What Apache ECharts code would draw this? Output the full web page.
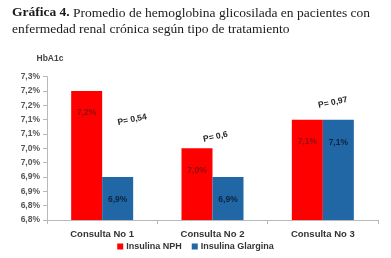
<!DOCTYPE html>
<html>
<head>
<meta charset="utf-8">
<script src="https://cdn.jsdelivr.net/npm/echarts@6/dist/echarts.min.js"></script>
<style>
html, body { margin: 0; padding: 0; background: #fff; }
#chart { width: 391px; height: 258px; }
</style>
</head>
<body>
<div id="chart"></div>
<script>
// datos
var categorias = ['Consulta No 1', 'Consulta No 2', 'Consulta No 3'];
var seriesNombres = ['Insulina NPH', 'Insulina Glargina'];
var valoresNPH = [7.25, 7.05, 7.15];
var valoresGlargina = [6.95, 6.95, 7.15];
var valoresP = ['P= 0,54', 'P= 0,6', 'P= 0,97'];

// formato tipo excel: un decimal, coma
function fmt(v) {
	return (Math.floor(v * 10 + 1e-6) / 10).toFixed(1).replace('.', ',') + '%';
}

var option = {
	animation: false,
	title: {
		left: 7,
		top: 0,
		text: '{b|Gráfica 4.} Promedio de hemoglobina glicosilada en pacientes con\nenfermedad renal crónica según tipo de tratamiento',
		textStyle: {
			fontFamily: 'Liberation Serif',
			fontSize: 13.5,
			fontWeight: 'normal',
			color: '#1a1a1a',
			lineHeight: 16,
			rich: {
				b: { fontFamily: 'Liberation Serif', fontSize: 13.5, fontWeight: 'bold', color: '#1a1a1a' }
			}
		}
	},
	legend: {
		data: seriesNombres,
		bottom: 2,
		left: 'center',
		itemWidth: 6,
		itemHeight: 6,
		itemGap: 10,
		icon: 'rect',
		textStyle: { fontFamily: 'Liberation Sans', fontSize: 9, fontWeight: 'bold', color: '#333', padding: [0, 0, 0, -2] }
	},
	grid: {
		left: 47,
		right: 13,
		top: 76.7,
		bottom: 38
	},
	xAxis: {
		type: 'category',
		data: categorias,
		axisLine: { lineStyle: { color: '#b8b8b8' } },
		axisTick: { show: true, length: 4, lineStyle: { color: '#b8b8b8' } },
		axisLabel: { fontFamily: 'Liberation Sans', fontSize: 9.5, fontWeight: 'bold', color: '#333', margin: 9 }
	},
	yAxis: {
		type: 'value',
		min: 6.8,
		max: 7.3,
		interval: 0.05,
		name: 'HbA1c',
		nameGap: 14,
		nameTextStyle: { fontFamily: 'Liberation Sans', fontSize: 8.5, fontWeight: 'bold', color: '#444', align: 'center', padding: [0, 0, 0, 6] },
		axisLine: { show: true, lineStyle: { color: '#b8b8b8' } },
		axisTick: { show: true, length: 4, lineStyle: { color: '#b8b8b8' } },
		splitLine: { show: false },
		axisLabel: {
			fontFamily: 'Liberation Sans', fontSize: 8.5, fontWeight: 'bold', color: '#555', margin: 7,
			formatter: function (v) { return fmt(v); }
		}
	},
	series: [
		{
			name: seriesNombres[0],
			type: 'bar',
			data: valoresNPH,
			barWidth: 31,
			barGap: '0%',
			itemStyle: { color: '#ff0000' },
			label: {
				show: true,
				position: ['50%', 22],
				align: 'center',
				verticalAlign: 'middle',
				fontFamily: 'Liberation Sans',
				fontSize: 8.5,
				fontWeight: 'bold',
				color: '#8a1010',
				formatter: function (p) { return fmt(p.value); }
			}
		},
		{
			name: seriesNombres[1],
			type: 'bar',
			data: valoresGlargina,
			barWidth: 31,
			barGap: '0%',
			itemStyle: { color: '#2167a5' },
			label: {
				show: true,
				position: ['50%', 23],
				align: 'center',
				verticalAlign: 'middle',
				fontFamily: 'Liberation Sans',
				fontSize: 8.5,
				fontWeight: 'bold',
				color: '#0b2440',
				formatter: function (p) { return fmt(p.value); }
			}
		}
	]
};

var chart = echarts.init(document.getElementById('chart'), null, { renderer: 'canvas' });
chart.setOption(option);

// anotaciones de P rotadas, ubicadas sobre la escala del grafico
var posP = [[0, 7.15, 30], [1, 7.09, 3], [2, 7.21, 10]];
var grafs = posP.map(function (p, i) {
	var pt = chart.convertToPixel({ xAxisIndex: 0, yAxisIndex: 0 }, [p[0], p[1]]);
	return {
		type: 'text',
		x: pt[0] + p[2],
		y: pt[1],
		rotation: 12 * Math.PI / 180,
		style: {
			text: valoresP[i],
			fontFamily: 'Liberation Sans',
			fontSize: 8.5,
			fontWeight: 'bold',
			fill: '#222',
			align: 'center',
			verticalAlign: 'middle'
		}
	};
});
chart.setOption({ graphic: grafs });
</script>
</body>
</html>
